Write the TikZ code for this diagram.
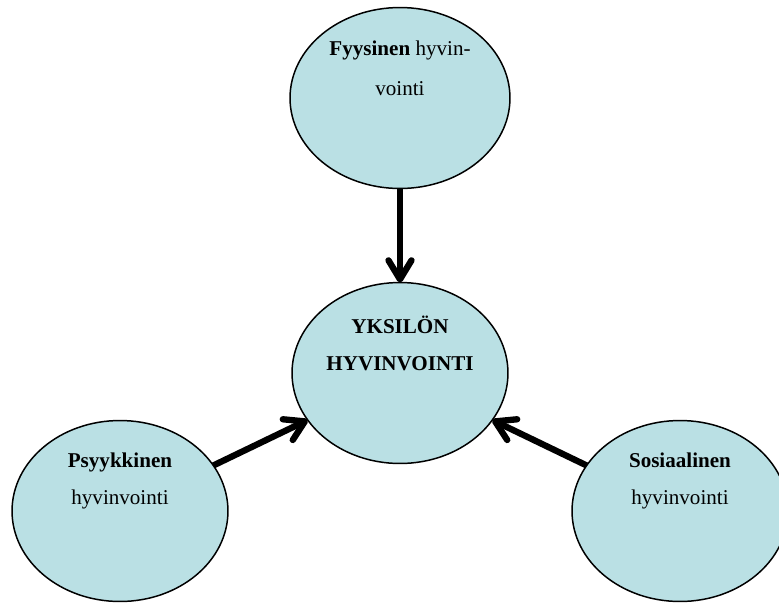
\documentclass[tikz,border=0pt]{standalone}
\usepackage{fontspec}
\setmainfont{Liberation Serif}
\usetikzlibrary{shapes.geometric,arrows.meta,positioning}
\definecolor{pale}{RGB}{186,224,228}
\begin{document}
\begin{tikzpicture}[x=0.02cm,y=-0.02cm,
  blob/.style={ellipse, draw, fill=pale, line width=0.85pt, minimum width=4.32cm,
    minimum height=3.62cm, inner sep=0pt, outer sep=0pt},
  txt/.style={align=center, font=\fontsize{12}{21}\selectfont},
  link/.style={line width=3.6pt,
    -{Straight Barb[length=0.38cm,width=0.46cm,line cap=round,line join=round]}}]
  \useasboundingbox (0,0) rectangle (779,603);
  \clip (0,0) rectangle (779,603);
  \def\up{0.6cm}
  \node[blob, minimum width=4.4cm] (fyys) at (400,98) {};
  \node[blob] (yks) at (400,373) {};
  \node[blob] (psyk) at (120,511) {};
  \node[blob] (sos) at (680,511) {};
  \node[txt] (fyyst) at ([yshift=\up]fyys.center) {\textbf{Fyysinen} hyvin-\\[2pt]vointi};
  \node[txt] (ykst) at ([yshift=\up]yks.center) {\textbf{YKSILÖN}\\\textbf{HYVINVOINTI}};
  \node[txt] (psykt) at ([yshift=\up]psyk.center) {\textbf{Psyykkinen}\\hyvinvointi};
  \node[txt] (sost) at ([yshift=\up]sos.center) {\textbf{Sosiaalinen}\\hyvinvointi};
  \draw[link] (fyys) -- (yks);
  \draw[link] (psyk.26) -- (yks.207);
  \draw[link] (sos.154) -- (yks.333);
\end{tikzpicture}
\end{document}
